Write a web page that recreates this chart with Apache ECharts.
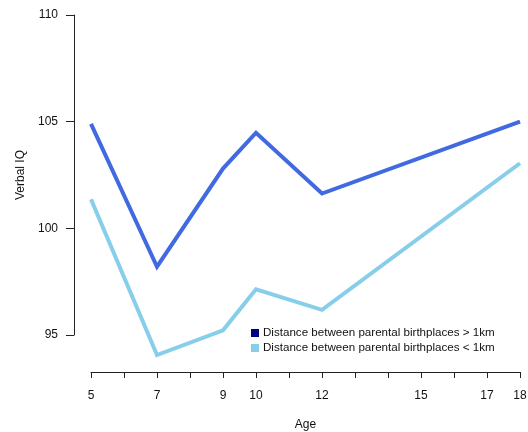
<!DOCTYPE html>
<html><head><meta charset="utf-8">
<script src="https://cdn.jsdelivr.net/npm/echarts@6/dist/echarts.min.js"></script>
<style>html,body{margin:0;padding:0;background:#fff}#c{width:528px;height:432px}</style>
</head><body><div id="c"></div>
<script>
const ages = [5, 7, 9, 10, 12, 18];
const farValues = [104.9, 98.2, 102.8, 104.48, 101.63, 105.0];
const nearValues = [101.36, 94.06, 95.22, 97.14, 96.18, 103.05];
const xLabelTicks = [5, 7, 9, 10, 12, 15, 17, 18];
const yTicks = [95, 100, 105, 110];
const seriesNames = ['Distance between parental birthplaces > 1km', 'Distance between parental birthplaces < 1km'];

const font = 'Liberation Sans, Arial, sans-serif';
const chart = echarts.init(document.getElementById('c'), null, {renderer: 'canvas'});
chart.setOption({
  animation: false,
  backgroundColor: '#fff',
  grid: {left: 91, right: 8, top: 15, bottom: 97, containLabel: false, outerBoundsMode: 'none'},
  xAxis: {
    type: 'value', min: 5, max: 18, interval: 1, offset: 37,
    axisLine: {show: true, lineStyle: {color: '#222', width: 1}},
    axisTick: {show: true, length: 6, lineStyle: {color: '#222'}},
    splitLine: {show: false},
    axisLabel: {
      margin: 18, color: '#111', fontSize: 12, fontFamily: font,
      formatter: v => xLabelTicks.includes(v) ? String(v) : ''
    },
    name: 'Age', nameLocation: 'middle', nameGap: 47,
    nameTextStyle: {color: '#111', fontSize: 12, fontFamily: font}
  },
  yAxis: {
    type: 'value', min: 95, max: 110, interval: 5, offset: 17,
    axisLine: {show: true, lineStyle: {color: '#222', width: 1}},
    axisTick: {show: true, length: 8, lineStyle: {color: '#222'}},
    splitLine: {show: false},
    axisLabel: {margin: 16, color: '#111', fontSize: 12, fontFamily: font},
    name: 'Verbal IQ', nameLocation: 'middle', nameGap: 41, nameRotate: 90,
    nameTextStyle: {color: '#111', fontSize: 12, fontFamily: font}
  },
  legend: {
    show: true, orient: 'vertical', left: 246, top: 322,
    itemWidth: 8, itemHeight: 8, itemGap: 3, icon: 'rect',
    textStyle: {color: '#111', fontSize: 11.6, fontFamily: font, padding: [0, 0, 0, -1]},
    data: [
      {name: seriesNames[0], itemStyle: {color: '#000080'}},
      {name: seriesNames[1], itemStyle: {color: '#87CEEB'}}
    ]
  },
  series: [
    {
      name: seriesNames[0], type: 'line', clip: false, showSymbol: false, symbol: 'none',
      data: ages.map((a, i) => [a, farValues[i]]),
      lineStyle: {color: '#4169E1', width: 4, join: 'miter'}, itemStyle: {color: '#000080'}
    },
    {
      name: seriesNames[1], type: 'line', clip: false, showSymbol: false, symbol: 'none',
      data: ages.map((a, i) => [a, nearValues[i]]),
      lineStyle: {color: '#87CEEB', width: 4, join: 'miter'}, itemStyle: {color: '#87CEEB'}
    }
  ]
});
</script></body></html>
